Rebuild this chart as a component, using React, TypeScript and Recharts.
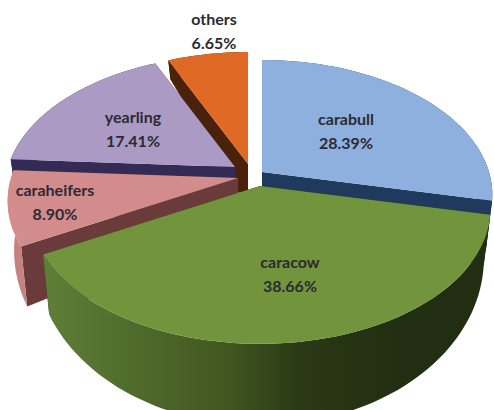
import React from "react";
import { PieChart, Pie } from "recharts";

const categories = ["carabull", "caracow", "caraheifers", "yearling", "others"];
const shares = [28.39, 38.66, 8.9, 17.41, 6.65];
const shareLabels = ["28.39%", "38.66%", "8.90%", "17.41%", "6.65%"];

const tableData = categories.map((name, i) => ({ name, value: shares[i] }));

const topColors = ["#8db0de", "#72943d", "#d28c8b", "#ab9ac3", "#e06a25"];
const cutColors = ["#1f3a5c", "#2c3b16", "#6b3a3a", "#332a55", "#4a210b"];
const wallFills = ["#1f3a5c", "url(#wallCow)", "#c58280", "#332a55", "#4a210b"];
const explodeX = [0, -2, -24, -27, -14];
const explodeY = [0, 14, 6, -5, -8];
const labelX = [346, 290, 55, 133, 214];
const labelY = [119, 262, 190, 117, 19];
const drawOrder = ["others", "carabull", "yearling", "caraheifers", "caracow"];

const K = 0.17;
const TOP_RY = 131;
const BOTTOM_RY = 162;
const APEX_DEPTH = 44;
const BOTTOM_SCALE = 0.972;

function project(cx: number, cy: number, R: number, deg: number, top: boolean) {
  const rad = (deg * Math.PI) / 180;
  const u = Math.sin(rad);
  const v = -Math.cos(rad);
  const p = 1 / (1 - K * v);
  return top
    ? { x: cx + R * u * p, y: cy + TOP_RY * v * p }
    : { x: cx + R * BOTTOM_SCALE * u * p, y: cy + APEX_DEPTH + BOTTOM_RY * v * p };
}

const toPath = (pts: { x: number; y: number }[]) =>
  "M" + pts.map((q) => `${q.x.toFixed(1)},${q.y.toFixed(1)}`).join("L") + "Z";

function makeShape(target: string) {
  return function SliceShape(props: any) {
    if (props.name !== target) return <g />;
    const i = categories.indexOf(target);
    const cx = props.cx + explodeX[i];
    const cy = props.cy + explodeY[i];
    const R = props.outerRadius;
    const a0 = 90 - props.startAngle;
    const a1 = 90 - props.endAngle;
    const steps = Math.max(4, Math.ceil((a1 - a0) / 2));
    const angles: number[] = [];
    for (let s = 0; s <= steps; s++) angles.push(a0 + ((a1 - a0) * s) / steps);
    const topRim = angles.map((a) => project(cx, cy, R, a, true));
    const bottomRim = angles.map((a) => project(cx, cy, R, a, false));
    const apexTop = { x: cx, y: cy };
    const apexBottom = { x: cx, y: cy + APEX_DEPTH };
    const wall = [...topRim, ...[...bottomRim].reverse()];
    return (
      <g>
        <defs>
          <linearGradient id="wallCow" gradientUnits="userSpaceOnUse" x1="40" y1="0" x2="400" y2="0">
            <stop offset="0" stopColor="#5f8038" />
            <stop offset="0.53" stopColor="#40561f" />
            <stop offset="0.72" stopColor="#2a3916" />
            <stop offset="1" stopColor="#222e11" />
          </linearGradient>
        </defs>
        <path
          d={toPath([apexTop, topRim[topRim.length - 1], bottomRim[bottomRim.length - 1], apexBottom])}
          fill={cutColors[i]}
        />
        <path d={toPath([apexTop, topRim[0], bottomRim[0], apexBottom])} fill={cutColors[i]} />
        <path d={toPath(wall)} fill={wallFills[i]} />
        <path d={toPath([apexTop, ...topRim])} fill={topColors[i]} />
      </g>
    );
  };
}

const textStyle = {
  fontFamily: "Lato, sans-serif",
  fontWeight: 700,
  fontSize: 16,
  fill: "#2c2a33",
};

function LabelShape(props: any) {
  const i = categories.indexOf(props.name);
  return (
    <text textAnchor="middle" style={textStyle}>
      <tspan x={labelX[i]} y={labelY[i] + 6}>{props.name}</tspan>
      <tspan x={labelX[i]} y={labelY[i] + 30}>{shareLabels[i]}</tspan>
    </text>
  );
}

export default function App() {
  return (
    <div style={{ position: "absolute", left: 0, top: 0, width: 494, height: 410, overflow: "hidden", background: "#fff" }}>
      <PieChart width={494} height={410} margin={{ top: 0, right: 0, bottom: 0, left: 0 }}>
        {drawOrder.map((name) => (
          <Pie
            key={name}
            data={tableData}
            dataKey="value"
            nameKey="name"
            cx={262}
            cy={172}
            innerRadius={0}
            outerRadius={227}
            startAngle={90}
            endAngle={-270}
            stroke="none"
            isAnimationActive={false}
            shape={makeShape(name)}
          />
        ))}
        <Pie
          key="labels"
          data={tableData}
          dataKey="value"
          nameKey="name"
          cx={262}
          cy={172}
          innerRadius={0}
          outerRadius={227}
          startAngle={90}
          endAngle={-270}
          stroke="none"
          isAnimationActive={false}
          shape={LabelShape}
        />
      </PieChart>
    </div>
  );
}
